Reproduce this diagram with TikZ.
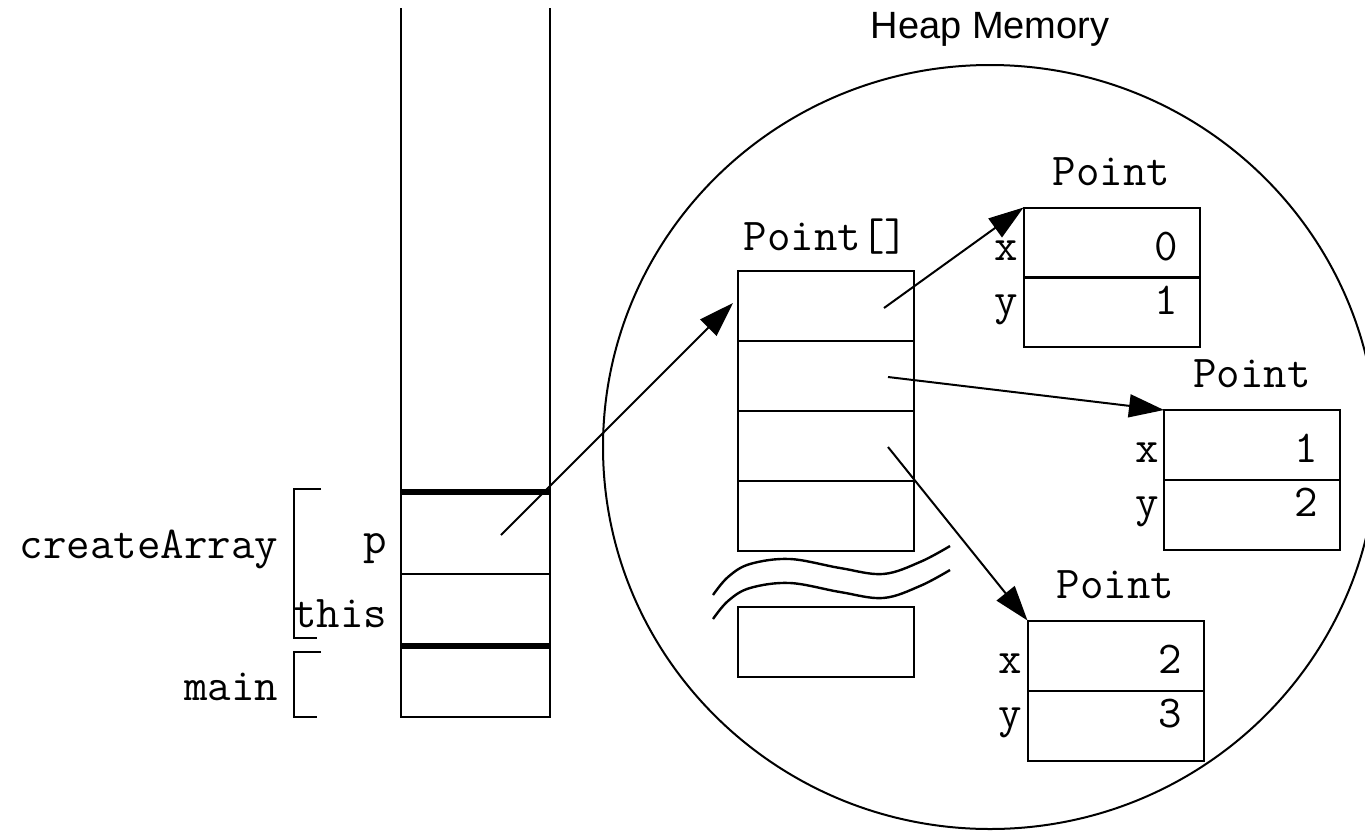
\documentclass[tikz,border=0pt]{standalone}
\usepackage{fontspec}
\setsansfont{Liberation Sans}
\usetikzlibrary{arrows.meta}
\begin{document}
\begin{tikzpicture}[x=0.5pt,y=-0.5pt, line width=1pt,
  lbl/.style={font=\ttfamily\fontsize{22.8}{26}\selectfont, inner sep=0pt, anchor=base},
  lble/.style={lbl, anchor=base east},
  heaplbl/.style={font=\sffamily\fontsize{19}{23}\selectfont, inner sep=0pt, anchor=base},
  cell/.style={draw, line width=1pt, minimum width=88pt, minimum height=35pt, inner sep=0pt, outer sep=0pt},
  ptr/.style={-{Triangle[length=17.5pt,width=11.5pt]}, line width=1pt, shorten >=0pt},
  thickln/.style={line width=3.3pt},
  wave/.style={line width=1.2pt}]
\useasboundingbox (0,0) rectangle (1365,831);

% Stack
\draw (401,8) -- (401,717) -- (550,717) -- (550,8);
\draw[thickln] (401,492) -- (550,492);
\draw[thickln] (401,646) -- (550,646);
\draw (401,574) -- (550,574);

% Brackets
\draw (321,489) -- (294,489) -- (294,638) -- (317,638);
\draw (321,652) -- (294,652) -- (294,717) -- (317,717);

\node[lble] (lcreate) at (279,558) {createArray};
\node[lble] (lmain) at (279,700) {main};
\node[lble] (lp) at (388,553) {p};
\node[lble] (lthis) at (388,627) {this};

% Heap
\draw (990,447) ellipse [x radius=193.5pt, y radius=191pt];
\node[heaplbl] (lheap) at (990,38) {Heap Memory};

% Array
\node[cell] (a1) at (826,306) {};
\node[cell] (a2) at (826,376) {};
\node[cell] (a3) at (826,446) {};
\node[cell] (a4) at (826,516) {};
\node[cell] (a5) at (826,642) {};
\node[lbl] (larr) at (826,250) {Point[]};

\draw[wave] plot[smooth, tension=0.6] coordinates {(713,595) (728,577) (750,564) (790,559) (840,568) (883,574) (920,562) (950,546)};
\draw[wave] plot[smooth, tension=0.6] coordinates {(713,619) (728,601) (750,588) (790,583) (840,592) (883,598) (920,586) (950,570)};

% Point 1
\node[cell] (p1x) at (1111.5,242.5) {};
\node[cell] (p1y) at (1111.5,312) {};
\node[lbl] (lp1) at (1111.5,185) {Point};
\node[lble] (p1xl) at (1019,260) {x};
\node[lble] (p1yl) at (1019,314) {y};
\node[lble] (p1xv) at (1179,260) {0};
\node[lble] (p1yv) at (1179,314) {1};

% Point 2
\node[cell] (p2x) at (1252,445) {};
\node[cell] (p2y) at (1252,515) {};
\node[lbl] (lp2) at (1252,387) {Point};
\node[lble] (p2xl) at (1160,462) {x};
\node[lble] (p2yl) at (1160,516) {y};
\node[lble] (p2xv) at (1319,462) {1};
\node[lble] (p2yv) at (1319,516) {2};

% Point 3
\node[cell] (p3x) at (1115.5,655.5) {};
\node[cell] (p3y) at (1115.5,725.5) {};
\node[lbl] (lp3) at (1115.5,598) {Point};
\node[lble] (p3xl) at (1023,673) {x};
\node[lble] (p3yl) at (1023,727) {y};
\node[lble] (p3xv) at (1183,673) {2};
\node[lble] (p3yv) at (1183,727) {3};

% Pointers
\coordinate (sp) at (501,535);
\coordinate (sptip) at (733,303);
\coordinate (s1) at (884,308);
\coordinate (s2) at (888,377);
\coordinate (s3) at (888,447);
\draw[ptr] (sp) -- (sptip);
\draw[ptr] (s1) -- (p1x.north west);
\draw[ptr] (s2) -- (p2x.north west);
\draw[ptr] (s3) -- (p3x.north west);
\end{tikzpicture}
\end{document}
